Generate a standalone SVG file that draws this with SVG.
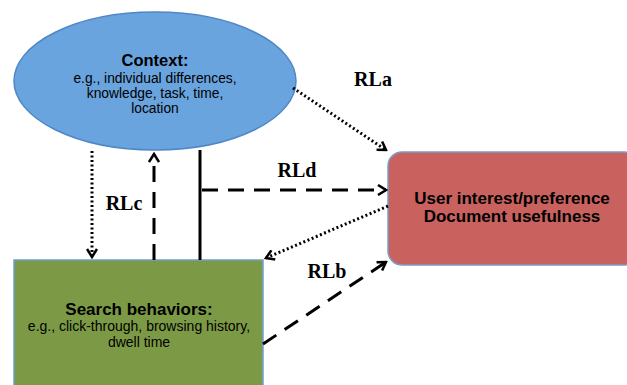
<svg xmlns="http://www.w3.org/2000/svg" width="627" height="385" viewBox="0 0 627 385">
<defs>
<marker id="ah" viewBox="0 0 12 12" refX="10" refY="6" markerWidth="12" markerHeight="12" markerUnits="userSpaceOnUse" orient="auto">
<path d="M2,1 L10,6 L2,11" fill="none" stroke="#000" stroke-width="2.5"/>
</marker>
</defs>
<style>
.sans{font-family:"Liberation Sans",Arial,sans-serif;fill:#000;text-anchor:middle}
.b{font-weight:bold}
.lbl{font-family:"Liberation Serif","Times New Roman",serif;font-weight:bold;font-size:20px;fill:#000;text-anchor:middle}
.dot{fill:none;stroke:#000;stroke-width:3;stroke-dasharray:2 2.5}
.dash{fill:none;stroke:#000;stroke-width:3;stroke-dasharray:16 10}
.solid{fill:none;stroke:#000;stroke-width:3}
</style>
<rect width="627" height="385" fill="#fff"/>
<g id="context">
<ellipse cx="155" cy="81" rx="141" ry="69" fill="#6aa4de" stroke="#4f86c6" stroke-width="1.5"/>
<text class="sans b" x="155" y="66" font-size="16.5">Context:</text>
<text class="sans" x="155" y="83" font-size="13.8">e.g., individual differences,</text>
<text class="sans" x="155" y="98" font-size="13.8">knowledge, task, time,</text>
<text class="sans" x="155" y="113" font-size="13.8">location</text>
</g>
<g id="search">
<rect x="14" y="260" width="249" height="130" fill="#7c9a45" stroke="#6f9fd0" stroke-width="1.5"/>
<text class="sans b" x="139" y="315" font-size="17">Search behaviors:</text>
<text class="sans" x="139" y="331" font-size="14">e.g., click-through, browsing history,</text>
<text class="sans" x="139" y="347" font-size="14">dwell time</text>
</g>
<g id="user">
<rect x="388" y="152" width="250" height="113" rx="14" fill="#c9625e" stroke="#7b9cc8" stroke-width="1.5"/>
<text class="sans b" x="512" y="204" font-size="17">User interest/preference</text>
<text class="sans b" x="512" y="222" font-size="17">Document usefulness</text>
</g>
<g id="connectors">
<line class="dot" x1="293" y1="88" x2="386" y2="150" marker-end="url(#ah)"/>
<line class="solid" x1="200" y1="150" x2="200" y2="260"/>
<line class="dash" x1="202" y1="190" x2="386" y2="190" marker-end="url(#ah)"/>
<line class="dash" x1="154" y1="260" x2="154" y2="154" marker-end="url(#ah)"/>
<line class="dot" x1="92" y1="151" x2="92" y2="257" marker-end="url(#ah)"/>
<line class="dot" x1="388" y1="206" x2="266" y2="258" marker-end="url(#ah)"/>
<line class="dash" x1="263" y1="344" x2="386" y2="262" marker-end="url(#ah)"/>
</g>
<g id="labels">
<text class="lbl" x="373" y="86">RLa</text>
<text class="lbl" x="297" y="177">RLd</text>
<text class="lbl" x="124" y="210">RLc</text>
<text class="lbl" x="327" y="278">RLb</text>
</g>
</svg>
